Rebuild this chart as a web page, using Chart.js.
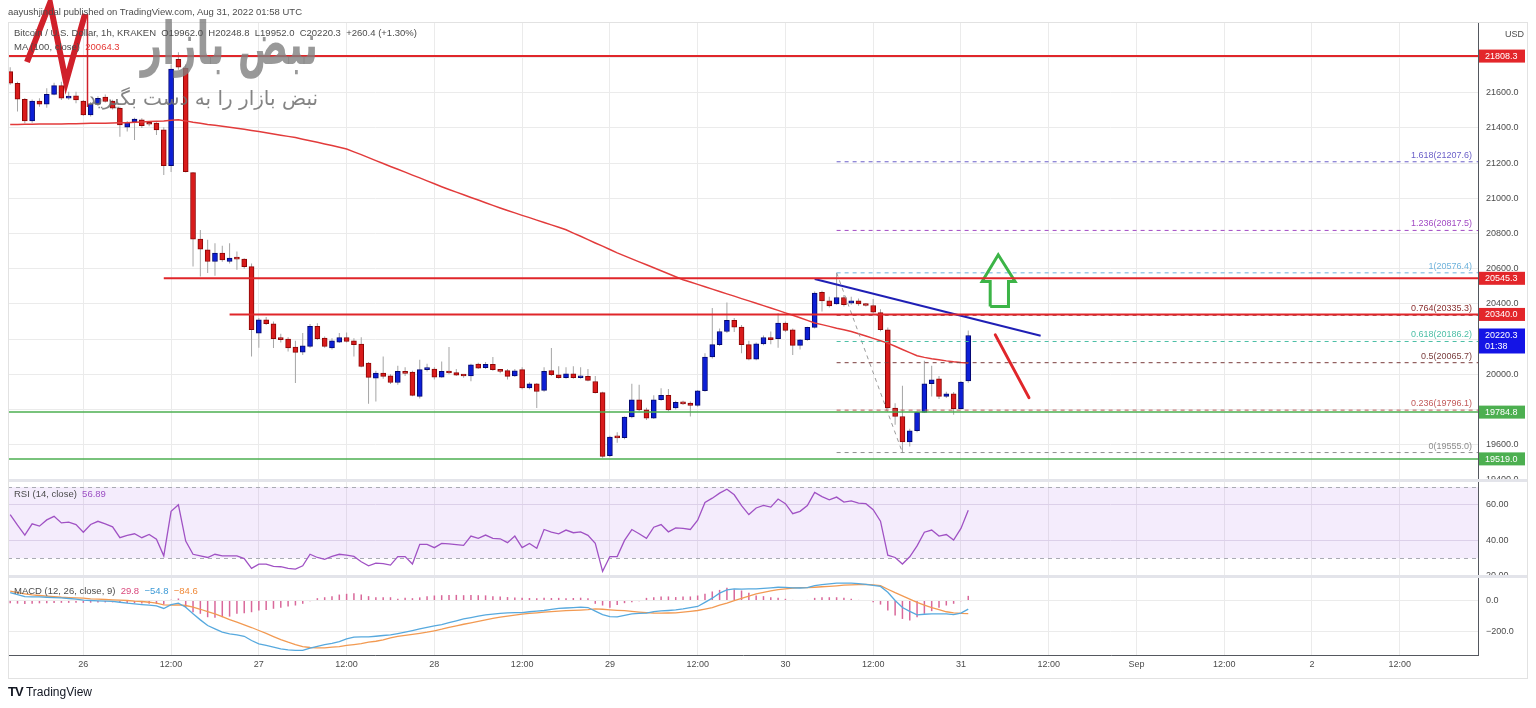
<!DOCTYPE html>
<html>
<head>
<meta charset="utf-8">
<title>BTCUSD 1h</title>
<script src="https://cdn.jsdelivr.net/npm/chart.js@4/dist/chart.umd.min.js"></script>
<style>
  html, body { margin: 0; padding: 0; background: #fff; }
  #box { position: relative; width: 1536px; height: 708px; overflow: hidden; font-family: "Liberation Sans", Arial, sans-serif; color: #4c4c4c; }
  #box canvas { position: absolute; left: 0; top: 0; }
  .txt { position: absolute; white-space: nowrap; font-size: 9.5px; line-height: 12px; }
  .fa { position: absolute; white-space: nowrap; direction: rtl; text-align: right; font-family: "DejaVu Sans", sans-serif; }
</style>
</head>
<body>
<div id="box">
  <canvas id="chart" width="1536" height="708"></canvas>

  <!-- watermark -->
  <div class="fa" style="left:0;width:318px;top:10px;font-size:44px;line-height:50px;font-weight:bold;color:rgba(128,128,128,0.8);transform:scale(0.85,1.35);transform-origin:318px 0">نبض بازار</div>
  <div class="fa" style="left:0;width:318px;top:86px;font-size:20px;color:rgba(110,110,110,0.85)">نبض بازار را به دست بگیرید</div>

  <div class="txt" style="left:8px;top:6px">aayushjindal published on TradingView.com, Aug 31, 2022 01:58 UTC</div>
  <div class="txt" style="left:14px;top:27px">Bitcoin / U.S. Dollar, 1h, KRAKEN&nbsp; O19962.0&nbsp; H20248.8&nbsp; L19952.0&nbsp; C20220.3&nbsp; +260.4 (+1.30%)</div>
  <div class="txt" style="left:14px;top:41px">MA (100, close)&nbsp; <span style="color:#e53935">20064.3</span></div>
  <div class="txt" style="left:14px;top:488px">RSI (14, close)&nbsp; <span style="color:#9c4fc3">56.89</span></div>
  <div class="txt" style="left:14px;top:585px">MACD (12, 26, close, 9)&nbsp; <span style="color:#d9487c">29.8</span>&nbsp; <span style="color:#3d9ad6">−54.8</span>&nbsp; <span style="color:#ef8a3a">−84.6</span></div>
  <div class="txt" style="left:1505px;top:28px;font-size:9px">USD</div>
  <div class="txt" style="left:8px;top:686px;font-size:12px;color:#131722"><b style="font-size:13px;letter-spacing:-1px">TV</b>&nbsp;TradingView</div>
</div>

<script>
// BTCUSD 1h, KRAKEN - hours counted from Aug 26 00:00 UTC
const firstHour = -10;   // first candle : Aug 25 14:00
const timeLabels = ['26', '12:00', '27', '12:00', '28', '12:00', '29', '12:00', '30', '12:00', '31', '12:00', 'Sep', '12:00', '2', '12:00'];
const priceTicks = [19400, 19600, 19800, 20000, 20200, 20400, 20600, 20800, 21000, 21200, 21400, 21600, 21800];
const hiddenPriceTicks = [21800, 20200, 19800];   // covered by the price tags
const rsiTicks = [20, 40, 60];
const macdTicks = [-200, 0];

const opens = [21720, 21654, 21563, 21440, 21553, 21535, 21591, 21640, 21569, 21583,
  21553, 21474, 21535, 21575, 21552, 21512, 21404, 21434, 21446, 21430,
  21427, 21389, 21186, 21790, 21740, 21146, 20768, 20707, 20641, 20688,
  20641, 20660, 20654, 20612, 20234, 20310, 20287, 20202, 20200, 20155,
  20126, 20158, 20272, 20206, 20149, 20183, 20209, 20190, 20171, 20064,
  19978, 20007, 19991, 19953, 20016, 20012, 19874, 20026, 20029, 19984,
  20016, 20010, 19995, 19990, 20058, 20037, 20056, 20026, 20021, 19991,
  20026, 19922, 19946, 19908, 20021, 19997, 19980, 20003, 19980, 19988,
  19959, 19896, 19537, 19643, 19640, 19757, 19855, 19798, 19751, 19855,
  19880, 19808, 19840, 19836, 19823, 19906, 20098, 20168, 20243, 20306,
  20268, 20168, 20086, 20173, 20209, 20202, 20291, 20253, 20164, 20196,
  20266, 20465, 20417, 20400, 20436, 20404, 20417, 20400, 20391, 20350,
  20253, 19808, 19760, 19615, 19679, 19783, 19946, 19974, 19874, 19889,
  19804, 19962];
const highs = [21745, 21662, 21570, 21562, 21569, 21626, 21657, 21663, 21606, 21606,
  21559, 21547, 21580, 21590, 21560, 21520, 21440, 21458, 21455, 21440,
  21432, 21404, 21760, 21830, 21760, 21150, 20820, 20764, 20745, 20730,
  20745, 20697, 20660, 20630, 20320, 20325, 20300, 20230, 20210, 20190,
  20234, 20285, 20290, 20215, 20205, 20235, 20237, 20205, 20210, 20070,
  20020, 20101, 20000, 20048, 20040, 20020, 20082, 20060, 20040, 20073,
  20155, 20030, 20000, 20060, 20065, 20070, 20098, 20030, 20030, 20030,
  20040, 19955, 19950, 20040, 20149, 20045, 20040, 20045, 20040, 20030,
  19990, 19900, 19650, 19670, 19760, 19946, 19940, 19810, 19880, 19920,
  19916, 19850, 19850, 19845, 19910, 20120, 20376, 20260, 20408, 20320,
  20280, 20190, 20180, 20220, 20243, 20347, 20300, 20260, 20200, 20270,
  20470, 20475, 20440, 20576, 20450, 20440, 20430, 20405, 20427, 20370,
  20266, 19835, 19934, 19690, 19790, 20077, 20048, 19990, 19900, 19899,
  19962, 20248.8];
const lows = [21645, 21493, 21427, 21430, 21521, 21514, 21585, 21559, 21560, 21540,
  21468, 21465, 21525, 21545, 21505, 21350, 21379, 21332, 21400, 21410,
  21360, 21133, 21150, 21730, 21146, 20612, 20556, 20575, 20560, 20640,
  20630, 20594, 20600, 20101, 20150, 20280, 20149, 20180, 20130, 19950,
  20110, 20150, 20195, 20150, 20140, 20178, 20180, 20101, 20040, 19832,
  19845, 19975, 19945, 19940, 19990, 19875, 19862, 20015, 19970, 19980,
  20000, 19990, 19980, 19960, 20030, 20030, 20020, 20005, 19970, 19985,
  19915, 19915, 19808, 19900, 19990, 19975, 19975, 19975, 19975, 19960,
  19890, 19525, 19530, 19610, 19630, 19750, 19790, 19740, 19745, 19850,
  19790, 19800, 19825, 19760, 19815, 19900, 20090, 20160, 20235, 20240,
  20120, 20080, 20080, 20165, 20170, 20150, 20240, 20110, 20140, 20190,
  20260, 20356, 20380, 20395, 20385, 20395, 20390, 20385, 20345, 20245,
  19800, 19713, 19555, 19590, 19670, 19780, 19874, 19860, 19865, 19770,
  19800, 19952];
const closes = [21654, 21563, 21440, 21553, 21535, 21591, 21640, 21569, 21574, 21559,
  21474, 21535, 21568, 21550, 21512, 21417, 21430, 21450, 21413, 21421,
  21389, 21186, 21734, 21745, 21152, 20768, 20711, 20641, 20688, 20650,
  20660, 20654, 20612, 20253, 20310, 20287, 20202, 20197, 20149, 20124,
  20162, 20272, 20202, 20158, 20190, 20209, 20186, 20168, 20044, 19982,
  20007, 19988, 19953, 20016, 20005, 19880, 20026, 20030, 19984, 20016,
  20007, 19995, 19990, 20054, 20035, 20056, 20026, 20016, 19988, 20020,
  19922, 19946, 19902, 20016, 19997, 19980, 20003, 19980, 19988, 19965,
  19896, 19533, 19643, 19638, 19757, 19855, 19798, 19751, 19855, 19880,
  19798, 19840, 19832, 19823, 19906, 20098, 20168, 20243, 20306, 20268,
  20168, 20086, 20173, 20209, 20196, 20291, 20249, 20164, 20196, 20266,
  20461, 20417, 20389, 20436, 20395, 20417, 20400, 20391, 20353, 20253,
  19808, 19760, 19615, 19679, 19783, 19946, 19969, 19874, 19889, 19804,
  19956, 20220.3];

// MA (100, close)
const ma100 = [21420, 21420, 21421, 21421, 21422, 21422, 21423, 21423, 21424, 21424,
  21425, 21426, 21427, 21427, 21428, 21429, 21430, 21432, 21434, 21436,
  21438, 21440, 21444, 21446, 21440, 21432, 21426, 21420, 21415, 21410,
  21404, 21398, 21392, 21386, 21380, 21373, 21366, 21359, 21352, 21345,
  21336, 21327, 21318, 21309, 21300, 21290, 21280, 21264, 21248, 21231,
  21214, 21198, 21181, 21165, 21149, 21132, 21116, 21099, 21083, 21066,
  21050, 21035, 21020, 21005, 20990, 20975, 20960, 20945, 20931, 20917,
  20903, 20890, 20876, 20862, 20849, 20835, 20821, 20802, 20784, 20765,
  20746, 20728, 20709, 20690, 20673, 20656, 20639, 20622, 20605, 20588,
  20571, 20554, 20537, 20524, 20511, 20497, 20484, 20470, 20457, 20444,
  20430, 20417, 20404, 20390, 20377, 20363, 20349, 20335, 20321, 20306,
  20291, 20282, 20272, 20262, 20253, 20243, 20230, 20217, 20204, 20190,
  20177, 20159, 20141, 20123, 20105, 20096, 20088, 20082, 20076, 20071,
  20067, 20064];

// RSI (14, close)
const rsi = [54.4, 48.5, 42.9, 49.3, 48, 51.5, 53.5, 49.8, 50.2, 48.9,
  44.6, 48.9, 50.7, 49.3, 47.6, 41.5, 42.8, 43.7, 41.5, 43.3,
  40.6, 31.3, 56.3, 60, 39.6, 32.2, 31.3, 30.4, 32.2, 31.3,
  31.3, 31.3, 29.8, 24.3, 26.7, 26.7, 25.4, 25.2, 24.3, 23.9,
  25.7, 32.2, 30.4, 29.4, 31, 32.2, 31.7, 31, 28, 25.7,
  27.2, 27, 26.1, 30.9, 30.9, 26.7, 37.8, 37.8, 35.9, 38.3,
  38, 37.6, 37.2, 42.4, 41.1, 43, 41.1, 40.9, 38.7, 42.4,
  35.9, 38.3, 35.6, 46.1, 44.6, 43.7, 45.8, 44.3, 44.8, 42.8,
  38.3, 22.6, 30.9, 30.9, 40, 46.1, 43.7, 41.1, 47.4, 48.9,
  44.8, 47, 46.7, 46.1, 51.3, 61.3, 63.7, 66.5, 68.7, 65.6,
  59.5, 54.5, 58.2, 59.6, 58.7, 63.2, 60.6, 55, 56.3, 59.6,
  66.9, 64.6, 62.8, 64.3, 61.5, 62.2, 60.9, 60.6, 57.2, 50.8,
  31.7, 30.4, 26.7, 30.8, 36.9, 44.6, 45.8, 42.4, 43.3, 40.2,
  46.7, 56.89];
const rsiBand = [30, 70];

// MACD (12, 26, close, 9)
const macdLine = [51, 38, 25, 23, 23, 21, 19, 17, 13, 8.5,
  2, 0, -2, -4, -6, -11, -17, -21, -26, -30,
  -34, -51, -26, -17, -43, -85, -124, -160, -182, -203,
  -214, -220, -229, -256, -278, -288, -299, -310, -316, -320,
  -320, -305, -293, -282, -274, -263, -246, -235, -233, -233,
  -229, -224, -220, -212, -203, -193, -182, -172, -163, -154,
  -142, -130, -118, -109, -100, -92, -87, -83, -79, -78,
  -77, -72, -68, -64, -57, -51, -48, -45, -43, -45,
  -68, -90, -103, -105, -95, -85, -83, -81, -71, -67,
  -64, -60, -54, -46, -38, -12, 15, 47, 68, 75,
  73, 74, 75, 78, 81, 85, 84, 81, 80, 82,
  96, 102, 107, 111, 111, 111, 108, 103, 97, 90,
  53, 0, -45, -70, -92, -88, -85, -85, -85, -90,
  -81, -54.8];
const signalLine = [60, 51, 43, 36, 32, 28, 25, 21, 19, 17,
  15, 11, 8.5, 6.4, 4, 2, 0, -4, -6.4, -11,
  -17, -28, -30, -28, -32, -43, -56, -71, -85, -103,
  -122, -139, -156, -173, -192, -211, -231, -250, -267, -282,
  -295, -301, -303, -303, -299, -295, -288, -282, -276, -267,
  -261, -252, -240, -230, -223, -217, -210, -203, -194, -184,
  -172, -162, -152, -143, -133, -124, -115, -107, -100, -94,
  -87, -83, -79, -75, -71, -68, -65, -63, -61, -58,
  -53, -56, -60, -63, -65, -70, -74, -77, -80, -81,
  -80, -79, -75, -70, -64, -55, -45, -30, -16, 0,
  14, 28, 43, 52, 62, 70, 75, 80, 82, 83,
  85, 88, 91, 94, 98, 100, 102, 103, 100, 95,
  72, 50, 30, 9, -12, -30, -45, -58, -72, -79,
  -83, -84.6];
const histogram = [-18, -20, -22, -20, -18, -17, -16, -15, -15, -14,
  -15, -14, -13, -12, -12, -13, -16, -17, -19, -20,
  -22, -26, 5, 13, -43, -75, -85, -107, -111, -107,
  -103, -85, -81, -75, -64, -60, -53, -47, -38, -32,
  -21, -4, 15, 21, 28, 38, 43, 47, 38, 28,
  21, 21, 21, 11, 17, 15, 20, 28, 32, 34,
  36, 36, 34, 36, 34, 33, 28, 26, 22, 20,
  18, 16, 14, 17, 16, 17, 15, 16, 18, 14,
  -21, -32, -47, -28, -17, -11, -4, 17, 21, 26,
  26, 22, 26, 26, 32, 43, 58, 68, 81, 70,
  64, 49, 32, 28, 21, 17, 11, 4, 0, 4,
  17, 21, 21, 21, 17, 11, 4, 0, -11, -26,
  -64, -96, -118, -128, -107, -85, -68, -47, -32, -21,
  -4, 29.8];

// horizontal support / resistance lines : price and the hour where they start
const resistances = [21808.3, 20545.3, 20340.0];
const resistanceFrom = [-10.3, 11, 20];
const supports = [19784.8, 19519.0];

// fibonacci extension from the swing high (h103) to the swing low (h112)
const fibRatios = ['1.618', '1.236', '1', '0.764', '0.618', '0.5', '0.236', '0'];
const fibValues = [21207.6, 20817.5, 20576.4, 20335.3, 20186.2, 20065.7, 19796.1, 19555.0];
const fibFrom = 103;
const fibSwing = [{ x: 103, y: 20576.4 }, { x: 112, y: 19555.0 }];

// hand drawn lines
const trendLine = [{ x: 100, y: 20541 }, { x: 130.9, y: 20219 }];
const dropLine = [{ x: 124.7, y: 20224 }, { x: 129.3, y: 19867 }];
const upArrow = [
  { x: 124.0, y: 20385 }, { x: 124.0, y: 20527 }, { x: 122.9, y: 20527 }, { x: 125.1, y: 20679 },
  { x: 127.4, y: 20527 }, { x: 126.5, y: 20527 }, { x: 126.5, y: 20385 }, { x: 124.0, y: 20385 }];

const xMin = -10.3, xMax = 190.7;

// ---------------------------------------------------------------

const UP = '#0c1fd6', UP_EDGE = '#05086e';
const DOWN = '#d91b1b', DOWN_EDGE = '#8c0606';
const fibColors = ['#6a5fc8', '#a24bc4', '#6fb3dc', '#8a2f2f', '#4dbfa6', '#7a3d3d', '#c25a5a', '#8d8d8d'];
const FONT = '"Liberation Sans", Arial, sans-serif';

const pts = arr => arr.map((v, i) => ({ x: firstHour + i, y: v }));
const isUp = i => closes[i] >= opens[i];
const fixTicks = list => s => { s.ticks = list.map(v => ({ value: v })); };

const line = (data, color, width, extra) => Object.assign({
  type: 'line', data: data, borderColor: color, borderWidth: width,
  pointRadius: 0, fill: false, tension: 0, yAxisID: 'y', order: 2
}, extra || {});

const datasets = [
  {   // wicks
    type: 'bar', data: lows.map((l, i) => ({ x: firstHour + i, y: [l, highs[i]] })),
    backgroundColor: '#a5a5a5', barThickness: 1, grouped: false, inflateAmount: 0,
    yAxisID: 'y', order: 10
  },
  {   // bodies
    type: 'bar', data: opens.map((o, i) => ({ x: firstHour + i, y: [o, closes[i]] })),
    backgroundColor: c => isUp(c.dataIndex) ? UP : DOWN,
    borderColor: c => isUp(c.dataIndex) ? UP_EDGE : DOWN_EDGE,
    borderWidth: 1, borderSkipped: false, barThickness: 5, minBarLength: 2,
    grouped: false, yAxisID: 'y', order: 9
  },
  line(pts(ma100), '#e23b3b', 1.5, { order: 5 }),
  {   // macd histogram
    type: 'bar', data: pts(histogram), backgroundColor: '#d9689a',
    barThickness: 1.5, grouped: false, inflateAmount: 0, yAxisID: 'yMacd', order: 6
  },
  line(pts(rsi), '#a052c4', 1.3, { yAxisID: 'yRsi' }),
  line(pts(macdLine), '#57a9de', 1.3, { yAxisID: 'yMacd' }),
  line(pts(signalLine), '#f29a52', 1.3, { yAxisID: 'yMacd' }),
];

resistances.forEach((v, k) => {
  datasets.push(line([{ x: resistanceFrom[k], y: v }, { x: xMax, y: v }], '#e0262a', 2, { order: 1 }));
});
supports.forEach(v => {
  datasets.push(line([{ x: xMin, y: v }, { x: xMax, y: v }], '#4caf50', 1.5, { order: 1 }));
});
fibValues.forEach((v, k) => {
  datasets.push(line([{ x: fibFrom, y: v }, { x: xMax, y: v }], fibColors[k], 1, { borderDash: [4, 4], order: 3 }));
});
datasets.push(line(fibSwing, '#9a9a9a', 1, { borderDash: [4, 4], order: 3 }));
datasets.push(line(trendLine, '#1f1fb5', 2, { order: 1 }));
datasets.push(line(dropLine, '#e0262a', 3, { order: 1, borderCapStyle: 'round' }));
datasets.push(line(upArrow, '#3cb447', 3, { order: 1, borderJoinStyle: 'miter' }));

// ---------------------------------------------------------------

const paneTick = { color: '#4c4c4c', font: { family: FONT, size: 9 }, padding: 8 };

const overlay = {
  id: 'overlay',
  beforeDatasetsDraw(chart) {
    const { ctx, chartArea: a, scales: { yRsi } } = chart;
    const top = yRsi.getPixelForValue(rsiBand[1]);
    const bot = yRsi.getPixelForValue(rsiBand[0]);
    ctx.save();
    ctx.fillStyle = 'rgba(156, 80, 230, 0.11)';
    ctx.fillRect(a.left, top, a.right - a.left, bot - top);
    ctx.strokeStyle = '#a9abb3';
    ctx.lineWidth = 1;
    ctx.setLineDash([4, 4]);
    [top, bot].forEach(y => {
      ctx.beginPath();
      ctx.moveTo(a.left, Math.round(y) + 0.5);
      ctx.lineTo(a.right, Math.round(y) + 0.5);
      ctx.stroke();
    });
    ctx.restore();
  },
  afterDatasetsDraw(chart) {
    const { ctx, chartArea: a, scales: { y } } = chart;
    ctx.save();
    ctx.font = '9px ' + FONT;
    ctx.textAlign = 'right';
    ctx.textBaseline = 'bottom';
    fibRatios.forEach((r, k) => {
      ctx.fillStyle = fibColors[k];
      ctx.fillText(r + '(' + fibValues[k].toFixed(1) + ')', a.right - 6, y.getPixelForValue(fibValues[k]) - 2);
    });
    ctx.restore();
  },
  afterDraw(chart) {
    const { ctx, chartArea: a, scales: { y, yRsi, yMacd } } = chart;
    ctx.save();

    // pane separators and frame
    ctx.fillStyle = '#e3e4ea';
    [yRsi.top, yMacd.top].forEach(t => ctx.fillRect(a.left, t - 1, chart.width - 8 - a.left, 3));
    ctx.strokeStyle = '#e2e2e2';
    ctx.lineWidth = 1;
    ctx.strokeRect(a.left + 0.5, a.top + 0.5, chart.width - 8 - a.left - 1, chart.scales.x.bottom - a.top);

    // price tags on the axis
    ctx.font = '9px ' + FONT;
    ctx.textBaseline = 'middle';
    ctx.textAlign = 'left';
    const tag = (v, color, extra) => {
      const py = y.getPixelForValue(v);
      const h = extra ? 25 : 13;
      const top = extra ? py - 7 : py - h / 2;
      ctx.fillStyle = color;
      ctx.fillRect(y.left + 1, top, y.width - 4, h);
      ctx.fillStyle = '#ffffff';
      ctx.fillText(v.toFixed(1), y.left + 7, py + 0.5);
      if (extra) ctx.fillText(extra, y.left + 7, py + 11.5);
    };
    resistances.forEach(v => tag(v, '#e3262a'));
    supports.forEach(v => tag(v, '#4caf50'));
    tag(closes[closes.length - 1], '#1414e6', '01:38');

    // watermark logo
    ctx.strokeStyle = '#d0202a';
    ctx.lineWidth = 6;
    ctx.lineJoin = 'miter';
    ctx.beginPath();
    ctx.moveTo(27, 62); ctx.lineTo(50, 3); ctx.lineTo(66, 82); ctx.lineTo(85, 14);
    ctx.stroke();
    ctx.lineWidth = 1.5;
    ctx.beginPath();
    ctx.moveTo(87.5, 14); ctx.lineTo(87.5, 107);
    ctx.stroke();
    ctx.restore();
  }
};

const chart = new Chart(document.getElementById('chart'), {
  type: 'bar',
  data: { datasets: datasets },
  options: {
    responsive: false,
    animation: false,
    events: [],
    devicePixelRatio: 1,
    layout: { padding: { left: 8, right: 8, top: 22, bottom: 30 }, autoPadding: false },
    plugins: { legend: { display: false }, tooltip: { enabled: false } },
    scales: {
      x: {
        type: 'linear', position: 'bottom', min: xMin, max: xMax, offset: false,
        afterFit: s => { s.height = 23; },
        afterBuildTicks: fixTicks(timeLabels.map((t, k) => k * 12)),
        grid: { color: '#ebebeb', drawTicks: false, offset: false },
        border: { color: '#55585f' },
        ticks: {
          autoSkip: false, maxRotation: 0,
          color: '#4c4c4c', font: { family: FONT, size: 9 }, padding: 4,
          callback: (v, k) => timeLabels[k]
        }
      },
      y: {
        type: 'linear', position: 'right', stack: 'panes', stackWeight: 458,
        min: 19399, max: 22002, beginAtZero: false,
        afterFit: s => { s.width = 50; },
        afterBuildTicks: fixTicks(priceTicks),
        grid: { color: '#ebebeb', drawTicks: false },
        border: { color: '#55585f' },
        ticks: Object.assign({}, paneTick, {
          callback: v => hiddenPriceTicks.includes(v) ? '' : v.toFixed(1)
        })
      },
      yRsi: {
        type: 'linear', position: 'right', stack: 'panes', stackWeight: 96,
        min: 20, max: 73.9,
        afterFit: s => { s.width = 50; },
        afterBuildTicks: fixTicks(rsiTicks),
        grid: { color: '#e4e0ea', drawTicks: false },
        border: { color: '#55585f' },
        ticks: Object.assign({}, paneTick, { callback: v => v.toFixed(2) })
      },
      yMacd: {
        type: 'linear', position: 'right', stack: 'panes', stackWeight: 79,
        min: -349, max: 157, beginAtZero: false,
        afterFit: s => { s.width = 50; },
        afterBuildTicks: fixTicks(macdTicks),
        grid: { color: '#ebebeb', drawTicks: false },
        border: { color: '#55585f' },
        ticks: Object.assign({}, paneTick, {
          callback: v => v < 0 ? '−' + Math.abs(v).toFixed(1) : v.toFixed(1)
        })
      }
    }
  },
  plugins: [overlay]
});
</script>
</body>
</html>
